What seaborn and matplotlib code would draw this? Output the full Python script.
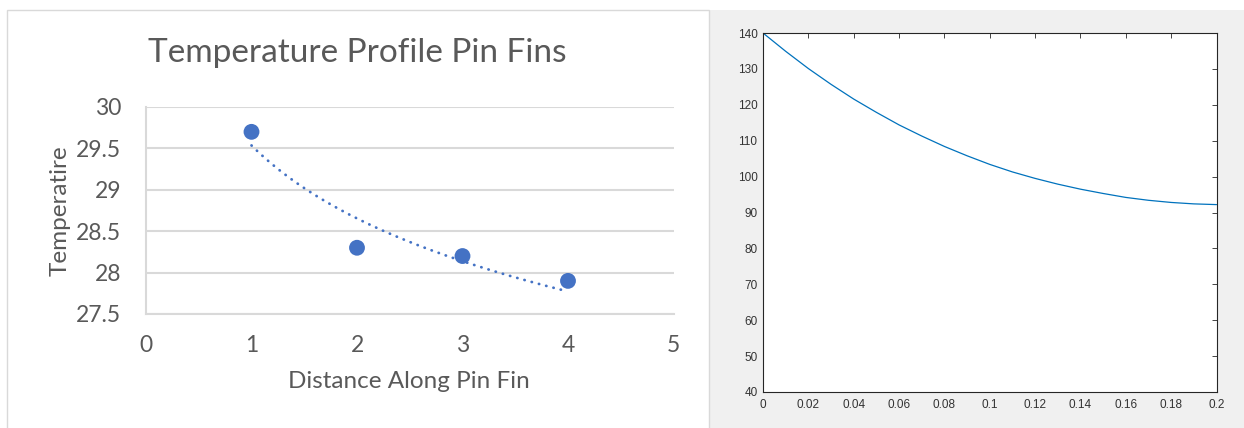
import numpy as np
import pandas as pd
import matplotlib
matplotlib.use("Agg")
import matplotlib.pyplot as plt
from matplotlib.patches import Rectangle
from matplotlib.ticker import FuncFormatter
import seaborn as sns

# left chart data (Excel style scatter + log trendline)
distance = [1, 2, 3, 4]
temperature = [29.7, 28.3, 28.2, 27.9]

# right chart data
x_fin = [0.00, 0.01, 0.02, 0.03, 0.04, 0.05, 0.06, 0.07, 0.08, 0.09, 0.10,
         0.11, 0.12, 0.13, 0.14, 0.15, 0.16, 0.17, 0.18, 0.19, 0.20]
t_fin = [140.0, 134.9, 130.1, 125.7, 121.6, 117.9, 114.4, 111.3, 108.4, 105.8, 103.4,
         101.3, 99.5, 97.9, 96.5, 95.3, 94.2, 93.4, 92.8, 92.4, 92.2]

sns.set_theme(style="white")

W, H = 1244, 428
fig = plt.figure(figsize=(W / 100, H / 100), dpi=100)
fig.patch.set_facecolor("white")

# grey MATLAB figure background and Excel chart border
fig.add_artist(Rectangle((710 / W, 0), 1 - 710 / W, (H - 10) / H,
                         transform=fig.transFigure, facecolor="#f0f0f0",
                         edgecolor="none", zorder=0))
fig.add_artist(Rectangle((7 / W, -0.01), (709 - 7) / W, (H - 10) / H + 0.01,
                         transform=fig.transFigure, facecolor="none",
                         edgecolor="#d9d9d9", lw=1, zorder=1))

excel_grey = "#595959"
blue = "#4472C4"

# ---- left: Excel chart ----
ax1 = fig.add_axes([146 / W, (H - 314) / H, (673.5 - 146) / W, (314 - 107) / H])
ax1.set_facecolor("none")
df = pd.DataFrame({"d": distance, "t": temperature})

# logarithmic trendline, as Excel does it
b, a = np.polyfit(np.log(df["d"]), df["t"], 1)
xt = np.linspace(df["d"].min(), df["d"].max() - 0.05, 200)
trend = pd.DataFrame({"d": xt, "t": a + b * np.log(xt)})
sns.lineplot(data=trend, x="d", y="t", ax=ax1, color=blue, lw=2.0,
             linestyle=(0, (0.1, 2.6)), dash_capstyle="round", zorder=3)
sns.scatterplot(data=df, x="d", y="t", ax=ax1, color=blue, s=130,
                edgecolor="none", zorder=4)

ax1.set_xlim(0, 5)
ax1.set_ylim(27.5, 30)
ax1.set_xticks([0, 1, 2, 3, 4, 5])
ax1.set_yticks([27.5, 28, 28.5, 29, 29.5, 30])
ax1.set_yticklabels(["27.5", "28", "28.5", "29", "29.5", "30"])
ax1.grid(axis="y", color="#d9d9d9", lw=1.5)
for s in ["top", "right"]:
    ax1.spines[s].set_visible(False)
for s in ["left", "bottom"]:
    ax1.spines[s].set_color("#d9d9d9")
    ax1.spines[s].set_linewidth(1.5)
ax1.tick_params(axis="both", length=0, labelsize=16.5, labelcolor=excel_grey)
ax1.tick_params(axis="y", pad=18)
ax1.tick_params(axis="x", pad=15)
for lab in ax1.get_xticklabels() + ax1.get_yticklabels():
    lab.set_family("Lato")

ax1.set_xlabel("Distance Along Pin Fin", fontsize=17.5, color=excel_grey, family="Lato")
ax1.set_ylabel("Temperatire", fontsize=17.5, color=excel_grey, family="Lato")
ax1.xaxis.set_label_coords((409 - 146) / 527.5, (314 - 371) / 207)
ax1.yaxis.set_label_coords((71 - 146) / 527.5, 0.5)
ax1.text((357 - 146) / 527.5, (314 - 53) / 207, "Temperature Profile Pin Fins",
         transform=ax1.transAxes, ha="center", va="center", fontsize=24,
         color=excel_grey, family="Lato")

# ---- right: MATLAB plot ----
ax2 = fig.add_axes([763 / W, (H - 392) / H, (1216.5 - 763) / W, (392 - 33) / H])
ax2.set_facecolor("white")
fin = pd.DataFrame({"x": x_fin, "t": t_fin})
sns.lineplot(data=fin, x="x", y="t", ax=ax2, color="#0072BD", lw=0.9)
ax2.set_xlim(0, 0.2)
ax2.set_ylim(40, 140)
ax2.set_xticks(np.round(np.arange(0, 0.201, 0.02), 2))
ax2.set_yticks(np.arange(40, 141, 10))
ax2.xaxis.set_major_formatter(FuncFormatter(lambda v, p: "%g" % round(v, 2)))
ax2.set_xlabel("")
ax2.set_ylabel("")
for s in ax2.spines.values():
    s.set_visible(True)
    s.set_color("#262626")
    s.set_linewidth(0.8)
ax2.tick_params(axis="both", direction="in", length=3.5, width=0.6, color="#262626",
                top=True, right=True, labelsize=8.5, labelcolor="#333333")
ax2.tick_params(axis="x", pad=5)
ax2.tick_params(axis="y", pad=4)
for lab in ax2.get_xticklabels() + ax2.get_yticklabels():
    lab.set_family("Liberation Sans")

fig.savefig("out.png", dpi=100)
